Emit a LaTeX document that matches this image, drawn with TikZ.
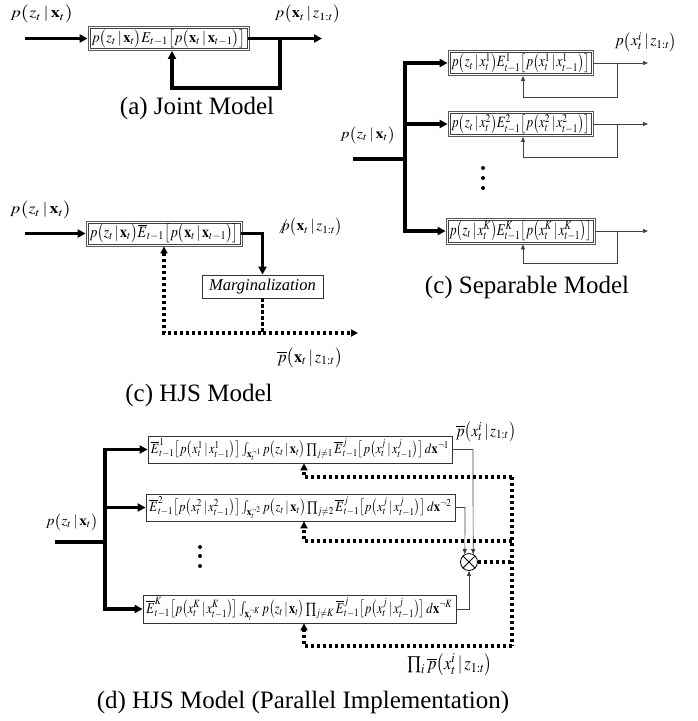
\documentclass[tikz,border=0pt]{standalone}
\usepackage{amsmath,amssymb}
\usepackage{mathptmx}
\usepackage{graphicx}
\usepackage{fontspec}
\setmainfont{Liberation Serif}
\usetikzlibrary{arrows.meta,calc}
\newcommand{\fm}[3]{\resizebox*{#1}{#2}{$#3$}}
\newcommand{\bx}{\mathbf{x}}
\newcommand{\cnd}{\,|\,}
\begin{document}
\begin{tikzpicture}[x=1pt,y=-1pt,
  thk/.style={line width=3.2pt,line cap=rect},
  thn/.style={line width=0.7pt,draw=black!75},
  dots/.style={line width=3.2pt,dash pattern=on 3.2pt off 2.8pt},
  bigtip/.style={-{Triangle[length=8pt,width=8pt]}},
  dottip/.style={-{Triangle[length=7pt,width=7pt]}},
  smalltip/.style={-{Triangle[length=5pt,width=4pt]}},
  dbox/.style={draw=black!65,line width=0.8pt,inner sep=0pt,
    path picture={\draw[black!75,line width=0.7pt]
      ([shift={(2pt,2pt)}]path picture bounding box.south west) rectangle
      ([shift={(-2pt,-2pt)}]path picture bounding box.north east);}},
  sbox/.style={draw=black!80,line width=0.8pt,inner sep=0pt},
  lbl/.style={inner sep=0pt},
  captxt/.style={inner sep=0pt,font=\fontsize{25}{30}\selectfont},
  dotn/.style={circle,fill=black,inner sep=0pt,minimum size=4pt}]
\useasboundingbox (0,0) rectangle (697,721);

% ---------------- (a) Joint model ----------------
\node[dbox,minimum width=161pt,minimum height=24pt] (A) at (168.5,38.5)
  {\fm{154pt}{18pt}{p\bigl(z_t\cnd\bx_t\bigr)E_{t-1}\bigl[p\bigl(\bx_t\cnd\bx_{t-1}\bigr)\bigr]}};
\node[lbl] (la1) at (42,14) {\fm{63pt}{18pt}{p\bigl(z_t\cnd\bx_t\bigr)}};
\node[lbl] (la2) at (308,14) {\fm{66pt}{18pt}{p\bigl(\bx_t\cnd z_{1:t}\bigr)}};
\coordinate (ain) at (27,38.5);
\coordinate (aout) at (322,38.5);
\coordinate (a1) at (280,38.5);
\coordinate (a2) at (280,88);
\coordinate (a3) at (172,88);
\draw[thk,bigtip] (ain) -- (A.west);
\draw[thk,bigtip] (A.east) -- (aout);
\draw[thk,bigtip] (a1) -- (a2) -- (a3) -- (a3 |- A.south);
\node[captxt] (capa) at (197,108) {(a) Joint Model};

% ---------------- HJS model ----------------
\node[dbox,minimum width=156pt,minimum height=25pt] (H) at (164,233.5)
  {\fm{149pt}{19pt}{p\bigl(z_t\cnd\bx_t\bigr)\overline{E}_{t-1}\bigl[p\bigl(\bx_t\cnd\bx_{t-1}\bigr)\bigr]}};
\node[sbox,minimum width=121pt,minimum height=23pt,font=\fontsize{16.5}{20}\selectfont\itshape] (M) at (262.5,286.5) {Marginalization};
\node[lbl] (lh1) at (41,210) {\fm{62pt}{18pt}{p\bigl(z_t\cnd\bx_t\bigr)}};
\node[lbl] (lh2) at (310,227) {\fm{65pt}{18pt}{\not p\bigl(\bx_t\cnd z_{1:t}\bigr)}};
\node[lbl] (lh3) at (310,358) {\fm{65pt}{20pt}{\overline{p}\bigl(\bx_t\cnd z_{1:t}\bigr)}};
\coordinate (hin) at (27,233.5);
\coordinate (hl) at (164,333);
\coordinate (hm) at (262.5,333);
\coordinate (hout) at (358,333);
\draw[thk,bigtip] (hin) -- (H.west);
\draw[thk,bigtip] (H.east) -| (M.north);
\draw[dots,dottip] (M.south) -- (hm) -- (hl) -- (H.south);
\draw[dots,dottip] (hm) -- (hout);
\node[captxt] (caph) at (199,395) {(c) HJS Model};

% ---------------- Separable model ----------------
\node[dbox,minimum width=145pt,minimum height=25pt] (S1) at (520.5,63)
  {\fm{138pt}{19pt}{p\bigl(z_t\cnd x_t^1\bigr)E^1_{t-1}\bigl[p\bigl(x_t^1\cnd x_{t-1}^1\bigr)\bigr]}};
\node[dbox,minimum width=145pt,minimum height=25pt] (S2) at (520.5,124)
  {\fm{138pt}{19pt}{p\bigl(z_t\cnd x_t^2\bigr)E^2_{t-1}\bigl[p\bigl(x_t^2\cnd x_{t-1}^2\bigr)\bigr]}};
\node[dbox,minimum width=149pt,minimum height=26pt] (SK) at (520.5,231)
  {\fm{142pt}{20pt}{p\bigl(z_t\cnd x_t^K\bigr)E^K_{t-1}\bigl[p\bigl(x_t^K\cnd x_{t-1}^K\bigr)\bigr]}};
\node[lbl] (ls1) at (646,42) {\fm{62pt}{19pt}{p\bigl(x_t^i\cnd z_{1:t}\bigr)}};
\node[lbl] (ls2) at (368,135) {\fm{55pt}{17pt}{p\bigl(z_t\cnd\bx_t\bigr)}};
\node[dotn] (sd1) at (483,168) {};
\node[dotn] (sd2) at (483,178) {};
\node[dotn] (sd3) at (483,188) {};
\coordinate (sin) at (355,159);
\coordinate (sb0) at (405,159);
\coordinate (sb1) at (405,63);
\coordinate (sb2) at (405,124);
\coordinate (sbK) at (405,231);
\draw[thk] (sin) -- (sb0);
\draw[thk] (sb1) -- (sbK);
\draw[thk,bigtip] (sb1) -- (S1.west);
\draw[thk,bigtip] (sb2) -- (S2.west);
\draw[thk,bigtip] (sbK) -- (SK.west);
\foreach \n/\yb in {S1/97,S2/157,SK/263}{
  \coordinate (\n o) at (648,0 |- \n.east);
  \draw[thn,smalltip] (\n.east) -- (\n o);
  \coordinate (\n f2) at (617,\yb);
  \coordinate (\n f3) at (523,\yb);
  \draw[thn,smalltip] (617,0 |- \n.east) -- (\n f2) -- (\n f3) -- (\n f3 |- \n.south);
}
\node[captxt] (caps) at (527,287) {(c) Separable Model};

% ---------------- (d) HJS parallel ----------------
\node[sbox,minimum width=304pt,minimum height=27pt] (D1) at (300,449.5)
  {\fm{298pt}{22pt}{\overline{E}^1_{t-1}\bigl[p\bigl(x_t^1\cnd x_{t-1}^1\bigr)\bigr]\int_{\bx_t^{\neg 1}} p\bigl(z_t\cnd\bx_t\bigr)\prod\nolimits_{j\neq 1}\overline{E}^j_{t-1}\bigl[p\bigl(x_t^j\cnd x_{t-1}^j\bigr)\bigr]\,d\bx^{\neg 1}}};
\node[sbox,minimum width=309pt,minimum height=27pt] (D2) at (300.5,507.5)
  {\fm{302pt}{22pt}{\overline{E}^2_{t-1}\bigl[p\bigl(x_t^2\cnd x_{t-1}^2\bigr)\bigr]\int_{\bx_t^{\neg 2}} p\bigl(z_t\cnd\bx_t\bigr)\prod\nolimits_{j\neq 2}\overline{E}^j_{t-1}\bigl[p\bigl(x_t^j\cnd x_{t-1}^j\bigr)\bigr]\,d\bx^{\neg 2}}};
\node[sbox,minimum width=313pt,minimum height=28pt] (DK) at (299.5,609)
  {\fm{306pt}{23pt}{\overline{E}^K_{t-1}\bigl[p\bigl(x_t^K\cnd x_{t-1}^K\bigr)\bigr]\int_{\bx_t^{\neg K}} p\bigl(z_t\cnd\bx_t\bigr)\prod\nolimits_{j\neq K}\overline{E}^j_{t-1}\bigl[p\bigl(x_t^j\cnd x_{t-1}^j\bigr)\bigr]\,d\bx^{\neg K}}};
\node[circle,draw=black,line width=0.8pt,minimum size=17pt,inner sep=0pt] (X) at (469,562) {};
\draw[line width=0.8pt] (X.45) -- (X.225) (X.135) -- (X.315);
\node[lbl] (ld1) at (72,522) {\fm{52pt}{17pt}{p\bigl(z_t\cnd\bx_t\bigr)}};
\node[lbl] (ld2) at (486,432) {\fm{60pt}{20pt}{\overline{p}\bigl(x_t^i\cnd z_{1:t}\bigr)}};
\node[lbl] (ld3) at (450,665) {\fm{85pt}{22pt}{\prod\nolimits_i\overline{p}\bigl(x_t^i\cnd z_{1:t}\bigr)}};
\node[dotn] (dd1) at (200,547) {};
\node[dotn] (dd2) at (200,556) {};
\node[dotn] (dd3) at (200,566) {};
\coordinate (din) at (57,542);
\coordinate (db0) at (105,542);
\coordinate (db1) at (105,449.5);
\coordinate (db2) at (105,507.5);
\coordinate (dbK) at (105,609);
\draw[thk] (din) -- (db0);
\draw[thk] (db1) -- (dbK);
\draw[thk,bigtip] (db1) -- (D1.west);
\draw[thk,bigtip] (db2) -- (D2.west);
\draw[thk,bigtip] (dbK) -- (DK.west);
\coordinate (o1) at (473,449.5);
\coordinate (o2) at (465,507.5);
\draw[thn,smalltip] (D1.east) -- (o1) -- (X.62);
\draw[thn,smalltip] (D2.east) -- (o2) -- (X.118);
\draw[thn,smalltip] (DK.east) -| (X.south);
\coordinate (r1) at (512,477);
\coordinate (r2) at (512,541);
\coordinate (rK) at (512,646);
\coordinate (l1) at (304,477);
\coordinate (l2) at (304,541);
\coordinate (lK) at (304,646);
\draw[dots] (r1) -- (rK);
\draw[dots,dottip] (r1) -- (l1) -- (l1 |- D1.south);
\draw[dots,dottip] (r2) -- (l2) -- (l2 |- D2.south);
\draw[dots,dottip] (rK) -- (lK) -- (lK |- DK.south);
\draw[dots] (X.east) -- (X.east -| r1);
\node[captxt] (capd) at (303,702) {(d) HJS Model (Parallel Implementation)};
\end{tikzpicture}
\end{document}
